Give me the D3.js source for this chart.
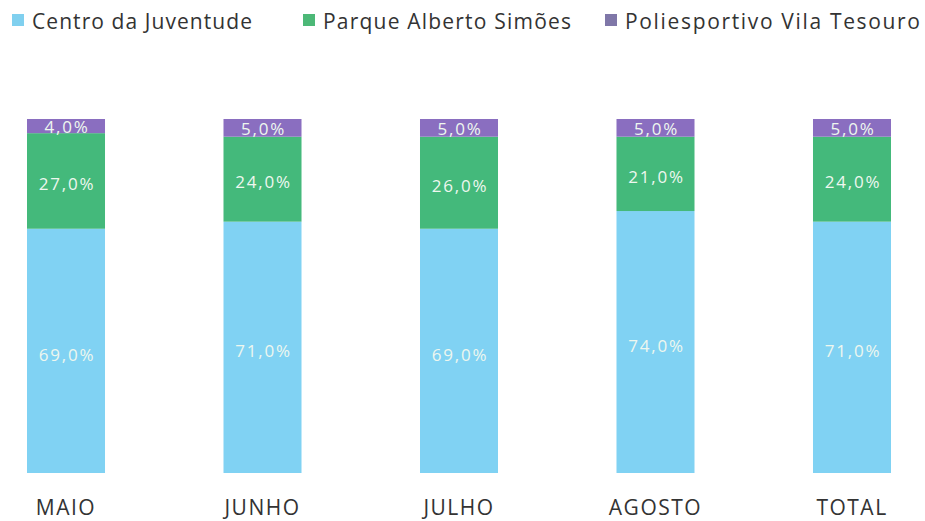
<!DOCTYPE html>
<html>
<head>
<meta charset="utf-8">
<script src="https://cdn.jsdelivr.net/npm/d3@7"></script>
<style>
  html, body { margin: 0; padding: 0; background: #fff; }
  svg { display: block; }
</style>
</head>
<body>
<svg id="chart" width="925" height="521"></svg>
<script>
// Monthly share of attendance by venue (percent)
const months = ["MAIO", "JUNHO", "JULHO", "AGOSTO", "TOTAL"];
const centroJuventude = [69, 71, 69, 74, 71];
const parqueAlberto = [27, 24, 26, 21, 24];
const poliesportivo = [4, 5, 5, 5, 5];
const seriesNames = ["Centro da Juventude", "Parque Alberto Simões", "Poliesportivo Vila Tesouro"];

const colors = ["#80d2f3", "#44b97b", "#8a6ec0"];
const legendColors = ["#80d0ef", "#4cb877", "#7f77a8"];

const svg = d3.select("#chart");
const font = "'Open Sans', 'Noto Sans', sans-serif";

const rows = months.map((m, i) => ({
  month: m,
  c: centroJuventude[i],
  p: parqueAlberto[i],
  v: poliesportivo[i]
}));
const keys = ["c", "p", "v"];
const stacked = d3.stack().keys(keys)(rows);

const x = d3.scaleBand().domain(months).range([27, 891]).paddingInner(0.603).paddingOuter(0);
const y = d3.scaleLinear().domain([0, 100]).range([473, 119]);

const layers = svg.append("g").selectAll("g")
  .data(stacked)
  .join("g")
  .attr("fill", (d, i) => colors[i]);

layers.selectAll("rect")
  .data(d => d)
  .join("rect")
  .attr("x", d => x(d.data.month))
  .attr("width", x.bandwidth())
  .attr("y", d => y(d[1]))
  .attr("height", d => y(d[0]) - y(d[1]));

// percentage labels inside each segment
const fmt = v => v.toFixed(1).replace(".", ",") + "%";
const labelShift = [4, 3, 1];
stacked.forEach((layer, li) => {
  svg.append("g").selectAll("text")
    .data(layer)
    .join("text")
    .attr("x", d => x(d.data.month) + x.bandwidth() / 2 + 1)
    .attr("y", d => (y(d[0]) + y(d[1])) / 2 + labelShift[li])
    .attr("dy", "0.35em")
    .attr("text-anchor", "middle")
    .attr("font-family", font)
    .attr("font-size", 17)
    .attr("letter-spacing", "1.8px")
    .attr("fill", "#eef7ef")
    .text(d => fmt(d[1] - d[0]));
});

// category axis
const xAxis = svg.append("g")
  .attr("transform", "translate(0,473)")
  .call(d3.axisBottom(x).tickSize(0).tickPadding(27));
xAxis.select(".domain").remove();
xAxis.selectAll("text")
  .attr("font-family", font)
  .attr("font-size", 21)
  .attr("letter-spacing", "1.5px")
  .attr("fill", "#333");

// legend
const legendX = [12, 303, 605];
const legendTextWidth = [220, 248, 295];
const legend = svg.append("g").selectAll("g")
  .data(seriesNames)
  .join("g")
  .attr("transform", (d, i) => `translate(${legendX[i]},0)`);
legend.append("rect")
  .attr("x", 0).attr("y", 14)
  .attr("width", 12).attr("height", 12)
  .attr("fill", (d, i) => legendColors[i]);
legend.append("text")
  .attr("x", 20).attr("y", 22)
  .attr("dy", "0.35em")
  .attr("font-family", font)
  .attr("font-size", 21)
  .attr("textLength", (d, i) => legendTextWidth[i])
  .attr("lengthAdjust", "spacing")
  .attr("fill", "#333")
  .text(d => d);
</script>
</body>
</html>
